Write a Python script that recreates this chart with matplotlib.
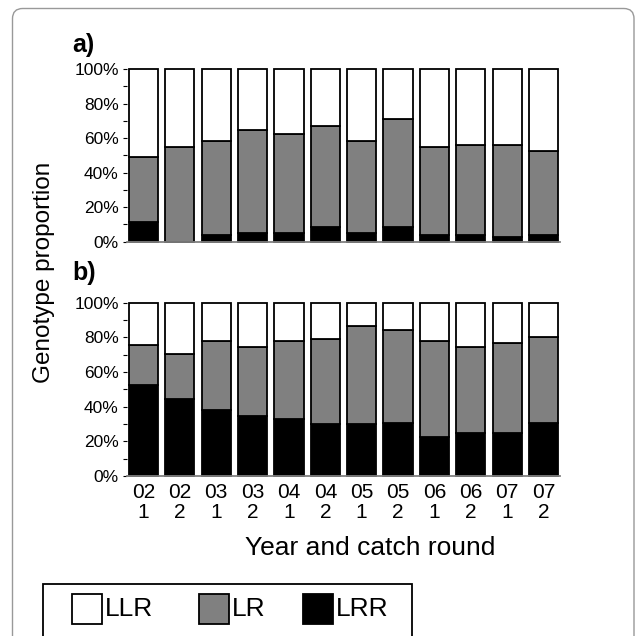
"""Stacked genotype proportions per year and catch round, panels a) and b)."""

import numpy as np
import matplotlib
matplotlib.use("Agg")
import matplotlib.pyplot as plt
from matplotlib.patches import Rectangle, FancyBboxPatch

plt.rcParams["font.family"] = ["Liberation Sans", "DejaVu Sans"]

# ---------- data (percent of genotypes) ----------
years = ["02", "02", "03", "03", "04", "04", "05", "05", "06", "06", "07", "07"]
rounds = ["1", "2", "1", "2", "1", "2", "1", "2", "1", "2", "1", "2"]

lrr_a = [11.6, 0.0, 4.1, 5.2, 5.2, 8.7, 5.2, 8.7, 4.1, 4.1, 2.9, 4.1]
lr_a = [37.2, 54.8, 54.2, 59.5, 57.0, 58.3, 53.3, 62.1, 50.7, 51.9, 53.1, 48.4]
llr_a = [51.2, 45.2, 41.7, 35.3, 37.8, 33.0, 41.5, 29.2, 45.2, 44.0, 44.0, 47.5]

lrr_b = [52.5, 44.2, 38.1, 34.6, 33.1, 29.8, 29.8, 30.8, 22.3, 24.6, 24.6, 30.8]
lr_b = [22.9, 26.2, 40.0, 39.6, 44.8, 49.2, 56.7, 53.2, 55.8, 49.6, 51.9, 49.6]
llr_b = [24.6, 29.6, 21.9, 25.8, 22.1, 21.0, 13.5, 16.0, 21.9, 25.8, 23.5, 19.6]

genotypes = ["LLR", "LR", "LRR"]
colors = {"LLR": "white", "LR": "#808080", "LRR": "black"}

W = H = 636


def draw_panel(ax, llr, lr, lrr):
    x = np.arange(len(llr))
    lrr = np.array(lrr)
    lr = np.array(lr)
    kw = dict(width=0.8, edgecolor="black", linewidth=1.3, clip_on=False)
    ax.bar(x, lrr, color=colors["LRR"], **kw)
    ax.bar(x, lr, bottom=lrr, color=colors["LR"], **kw)
    ax.bar(x, llr, bottom=lrr + lr, color=colors["LLR"], **kw)
    ax.set_ylim(0, 100)
    ax.set_xlim(-0.4545, len(llr) - 0.5455)
    ax.set_yticks(range(0, 101, 20), [f"{v}%" for v in range(0, 101, 20)])
    ax.set_yticks(range(10, 100, 20), minor=True)
    for s in ["top", "right", "left"]:
        ax.spines[s].set_visible(False)
    ax.spines["bottom"].set_color("#808080")
    ax.spines["bottom"].set_linewidth(1.3)
    ax.tick_params(axis="y", which="both", length=3, width=0.8, labelsize=12.5, pad=3)
    ax.tick_params(axis="x", length=0)
    return x


fig = plt.figure(figsize=(W / 100, H / 100), dpi=100)

left, width = 127 / W, 433 / W
ax_a = fig.add_axes([left, 1 - 241.7 / H, width, 172.7 / H])
ax_b = fig.add_axes([left, 1 - 476 / H, width, 173.3 / H])

draw_panel(ax_a, llr_a, lr_a, lrr_a)
ax_a.set_xticks([])
x = draw_panel(ax_b, llr_b, lr_b, lrr_b)
ax_b.set_xticks(x, [f"{y}\n{r}" for y, r in zip(years, rounds)], fontsize=15,
                linespacing=1.1)
ax_b.tick_params(axis="x", pad=5)

fig.text(72 / W, 1 - 33 / H, "a)", fontsize=18, fontweight="bold", va="top")
fig.text(72 / W, 1 - 261 / H, "b)", fontsize=18, fontweight="bold", va="top")
fig.text(44 / W, 1 - 272 / H, "Genotype proportion", rotation=90, fontsize=17.5,
         ha="center", va="center")
fig.text(370 / W, 1 - 548 / H, "Year and catch round", fontsize=19,
         ha="center", va="center")

# legend box (runs off the bottom edge like the original)
fig.add_artist(Rectangle((43 / W, -0.05), 369 / W, 0.05 + 1 - 584 / H,
                         transform=fig.transFigure, fill=False,
                         edgecolor="black", linewidth=1.3))
for g, sx in zip(genotypes, [72, 199, 303]):
    fig.add_artist(Rectangle((sx / W, 1 - 624 / H), 30 / W, 30 / H,
                             transform=fig.transFigure, facecolor=colors[g],
                             edgecolor="black", linewidth=1.3))
    fig.text((sx + 33) / W, 1 - 609 / H, g, fontsize=19, va="center")

# outer rounded frame
fig.add_artist(FancyBboxPatch((12.5 / W, -0.05), (634 - 12.5) / W, 0.05 + 1 - 8.5 / H,
                              boxstyle="round,pad=0,rounding_size=0.016",
                              transform=fig.transFigure, fill=False,
                              edgecolor="#999999", linewidth=1.0))

plt.savefig("out.png", dpi=100)
